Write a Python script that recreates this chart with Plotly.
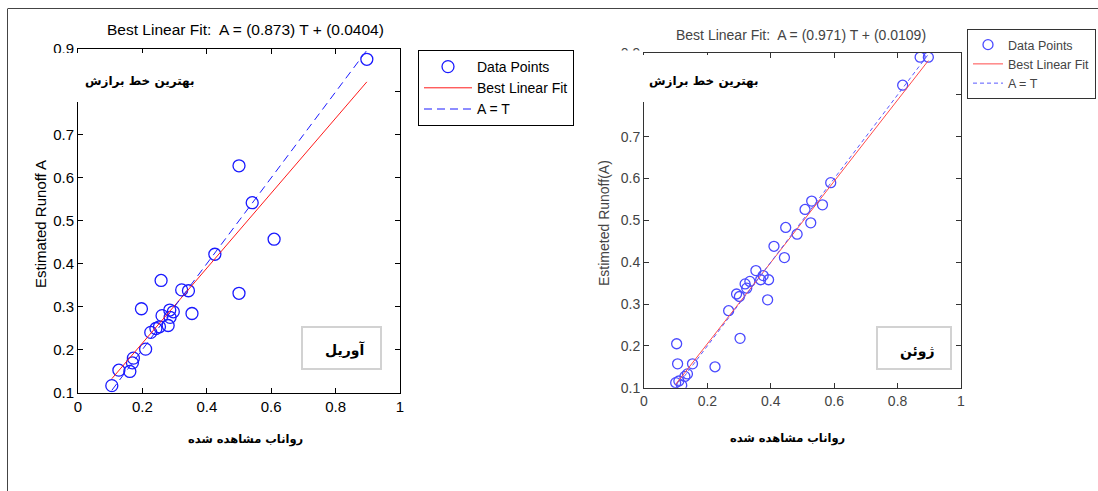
import plotly.graph_objects as go

W, H = 1098, 491

# ---- data ----
april_T = [0.105, 0.127, 0.161, 0.169, 0.172, 0.210, 0.197, 0.226, 0.242, 0.253, 0.258, 0.261,
           0.280, 0.285, 0.286, 0.296, 0.322, 0.343, 0.354, 0.425, 0.500, 0.609, 0.541, 0.500, 0.897]
april_A = [0.116, 0.152, 0.149, 0.169, 0.180, 0.201, 0.295, 0.240, 0.249, 0.253, 0.361, 0.279,
           0.256, 0.292, 0.275, 0.288, 0.339, 0.337, 0.284, 0.422, 0.331, 0.457, 0.542, 0.628, 0.876]
april_fit = (0.873, 0.0404)

june_T = [0.103, 0.106, 0.100, 0.110, 0.119, 0.129, 0.137, 0.153, 0.224, 0.267, 0.303, 0.292,
          0.301, 0.319, 0.324, 0.334, 0.353, 0.368, 0.376, 0.393, 0.390, 0.410, 0.443, 0.447,
          0.483, 0.526, 0.508, 0.529, 0.563, 0.589, 0.816, 0.871, 0.897]
june_A = [0.205, 0.157, 0.112, 0.116, 0.106, 0.127, 0.133, 0.157, 0.150, 0.284, 0.218, 0.324,
          0.318, 0.348, 0.338, 0.354, 0.380, 0.358, 0.368, 0.358, 0.310, 0.438, 0.411, 0.483,
          0.467, 0.494, 0.526, 0.546, 0.537, 0.590, 0.823, 0.890, 0.890]
june_fit = (0.971, 0.0109)

x_ticks = [0, 0.2, 0.4, 0.6, 0.8, 1]
y_ticks = [0.1, 0.2, 0.3, 0.4, 0.5, 0.6, 0.7, 0.8, 0.9]

def px(x):
    return x / W

def py(y):
    return 1 - y / H

fig = go.Figure()

def add_panel(T, A, fit, xa, ya, legend, marker_color, line_red, line_blue, dash, msize):
    tmin, tmax = min(T), max(T)
    m, b = fit
    fig.add_trace(go.Scatter(x=T, y=A, mode="markers", name="Data Points",
                             marker=dict(symbol="circle-open", size=msize, color=marker_color,
                                         line=dict(width=1.3, color=marker_color)),
                             xaxis=xa, yaxis=ya, legend=legend, showlegend=True))
    fig.add_trace(go.Scatter(x=[tmin, tmax], y=[m * tmin + b, m * tmax + b], mode="lines",
                             name="Best Linear Fit", line=dict(color=line_red, width=1),
                             xaxis=xa, yaxis=ya, legend=legend))
    fig.add_trace(go.Scatter(x=[tmin, tmax], y=[tmin, tmax], mode="lines", name="A = T",
                             line=dict(color=line_blue, width=1, dash=dash),
                             xaxis=xa, yaxis=ya, legend=legend))

add_panel(april_T, april_A, april_fit, "x", "y", "legend", "#1a1aff", "#ff1a1a", "#1a1aff",
          "8px,5px", 12)
add_panel(june_T, june_A, june_fit, "x2", "y2", "legend2", "#4a4aff", "#ff4a4a", "#5a5aff",
          "4px,3px", 10)

axis_common = dict(ticks="inside", ticklen=5, tickwidth=1, mirror="ticks", showline=True,
                   showgrid=False, zeroline=False, linewidth=1)

fig.update_layout(
    width=W, height=H, margin=dict(l=0, r=0, t=0, b=0, autoexpand=False),
    paper_bgcolor="white", plot_bgcolor="white",
    font=dict(family="Liberation Sans, Arial, sans-serif", color="black", size=14),
    xaxis=dict(domain=[px(78), px(400)], range=[0, 1], tickvals=x_ticks,
               ticktext=[f"{v:g}" for v in x_ticks], linecolor="black", tickcolor="black",
               tickfont=dict(size=15, color="black"), anchor="y", **axis_common),
    yaxis=dict(domain=[py(392.5), py(49)], range=[0.1, 0.9], tickvals=y_ticks,
               ticktext=[f"{v:g}" for v in y_ticks], linecolor="black", tickcolor="black",
               tickfont=dict(size=15, color="black"), anchor="x", **axis_common),
    xaxis2=dict(domain=[px(644), px(961)], range=[0, 1], tickvals=x_ticks,
                ticktext=[f"{v:g}" for v in x_ticks], linecolor="#333", tickcolor="#333",
                tickfont=dict(size=14, color="#444"), anchor="y2", **axis_common),
    yaxis2=dict(domain=[py(387.7), py(53)], range=[0.1, 0.9], tickvals=y_ticks,
                ticktext=[f"{v:g}" for v in y_ticks], linecolor="#333", tickcolor="#333",
                tickfont=dict(size=14, color="#444"), anchor="x2", **axis_common),
    legend=dict(x=px(418), y=py(50), xanchor="left", yanchor="top", bgcolor="white",
                bordercolor="black", borderwidth=1, font=dict(size=14, color="black"),
                tracegroupgap=0, itemwidth=48),
    legend2=dict(x=px(967), y=py(29), xanchor="left", yanchor="top", bgcolor="white",
                 bordercolor="#333", borderwidth=1, font=dict(size=12.5, color="#444"),
                 tracegroupgap=0, itemwidth=30),
    showlegend=True,
)

shapes = []
# page frame
shapes.append(dict(type="line", xref="paper", yref="paper", x0=px(8), x1=1.0, y0=py(8.5), y1=py(8.5),
                   line=dict(color="#444", width=1)))
shapes.append(dict(type="line", xref="paper", yref="paper", x0=px(7.5), x1=px(7.5), y0=0, y1=py(8.5),
                   line=dict(color="#444", width=1)))
# white boxes behind Persian captions (cover axis line)
shapes.append(dict(type="rect", xref="paper", yref="paper", x0=px(50), x1=px(205), y0=py(102), y1=py(53),
                   fillcolor="white", line=dict(width=0), layer="above"))
shapes.append(dict(type="rect", xref="paper", yref="paper", x0=px(610), x1=px(765), y0=py(102), y1=py(55),
                   fillcolor="white", line=dict(width=0), layer="above"))
shapes.append(dict(type="rect", xref="paper", yref="paper", x0=px(610), x1=px(641), y0=py(102), y1=py(50.5),
                   fillcolor="white", line=dict(width=0), layer="above"))
# month boxes
shapes.append(dict(type="rect", xref="paper", yref="paper", x0=px(302), x1=px(381), y0=py(369), y1=py(327),
                   fillcolor="white", line=dict(width=2, color="#d2d2d2"), layer="above"))
shapes.append(dict(type="rect", xref="paper", yref="paper", x0=px(877), x1=px(951), y0=py(369), y1=py(327),
                   fillcolor="white", line=dict(width=2, color="#d2d2d2"), layer="above"))
fig.update_layout(shapes=shapes)

fa = "DejaVu Sans, Noto Sans, sans-serif"
ann = []
ann.append(dict(text="Best Linear Fit:  A = (0.873) T + (0.0404)", x=px(245), y=py(30),
                font=dict(size=15.5, color="black")))
ann.append(dict(text="Best Linear Fit:  A = (0.971) T + (0.0109)", x=px(801), y=py(35),
                font=dict(size=14, color="#444")))
ann.append(dict(text="<b>بهترین خط برازش</b>", x=px(140), y=py(81), font=dict(family=fa, size=12, color="black")))
ann.append(dict(text="<b>بهترین خط برازش</b>", x=px(704), y=py(81), font=dict(family=fa, size=12, color="black")))
ann.append(dict(text="<b>آوریل</b>", x=px(345), y=py(350), font=dict(family=fa, size=14, color="black")))
ann.append(dict(text="<b>ژوئن</b>", x=px(917), y=py(351), font=dict(family=fa, size=14, color="black")))
ann.append(dict(text="<b>رواناب مشاهده شده</b>", x=px(245), y=py(439), font=dict(family=fa, size=11.5, color="black")))
ann.append(dict(text="<b>رواناب مشاهده شده</b>", x=px(787), y=py(438), font=dict(family=fa, size=11.5, color="black")))
ann.append(dict(text="Estimated Runoff A", x=px(40), y=py(224), textangle=-90,
                font=dict(size=15, color="black")))
ann.append(dict(text="Estimeted Runoff(A)", x=px(604), y=py(223), textangle=-90,
                font=dict(size=14, color="#444")))
for a in ann:
    a.update(xref="paper", yref="paper", showarrow=False, xanchor="center", yanchor="middle")
fig.update_layout(annotations=ann)

fig.write_html("out.html", config={"displayModeBar": False},
               post_script="document.body.style.margin='0px';document.body.style.overflow='hidden';")
